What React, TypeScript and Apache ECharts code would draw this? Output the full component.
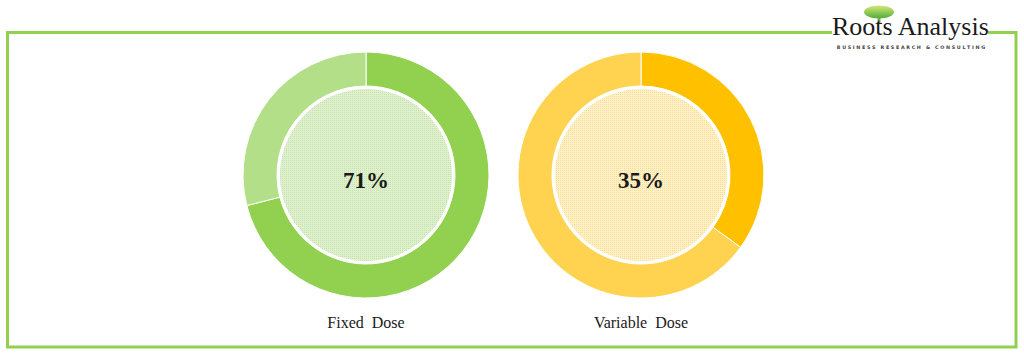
import React, { useEffect, useRef } from "react";
import * as echarts from "echarts";

const categories = ["Fixed Dose", "Variable Dose"];
const shareValues = [71, 35];
const restValues = [29, 65];
const darkColors = ["#92D050", "#FFC000"];
const lightColors = ["#B3DF88", "#FFD34F"];
const innerColors = ["#DFF0CF", "#FFF0C6"];
const innerDots = ["#C5E3A8", "#F8DC98"];
const centersX = [366, 641];
const centerY = 175;

export default function App() {
  const ref = useRef<HTMLDivElement>(null);
  useEffect(() => {
    document.body.style.margin = "0";
    const chart = echarts.init(ref.current!, null, { renderer: "svg" });
    const series: any[] = [];
    categories.forEach((name, i) => {
      series.push({
        type: "pie",
        name: name + " ring",
        center: [centersX[i], centerY],
        radius: [89, 123],
        startAngle: 90,
        clockwise: true,
        silent: true,
        label: { show: false },
        labelLine: { show: false },
        itemStyle: { borderColor: "#ffffff", borderWidth: 1 },
        data: [
          { name: name, value: shareValues[i], itemStyle: { color: darkColors[i] } },
          { name: "Other", value: restValues[i], itemStyle: { color: lightColors[i] } },
        ],
      });
      series.push({
        type: "pie",
        name: name + " inner",
        center: [centersX[i], centerY],
        radius: [0, 86],
        silent: true,
        label: { show: false },
        labelLine: { show: false },
        itemStyle: {
          color: innerColors[i],
          decal: {
            symbol: "rect",
            symbolSize: 1,
            color: innerDots[i],
            dashArrayX: [1, 1],
            dashArrayY: [1, 1],
          },
        },
        data: [{ name: name, value: 1 }],
      });
    });
    const graphic: any[] = [
      {
        type: "polyline",
        shape: {
          points: [
            [832, 32.5],
            [7.5, 32.5],
            [7.5, 347],
            [1016, 347],
            [1016, 32.5],
            [988, 32.5],
          ],
        },
        style: { stroke: "#92D050", lineWidth: 3, fill: null },
      },
      {
        type: "rect",
        shape: { x: 877.5, y: 14, width: 3, height: 9 },
        style: { fill: "#8aa860" },
      },
      {
        type: "ellipse",
        shape: { cx: 879, cy: 12, rx: 15, ry: 6.5 },
        style: {
          fill: new echarts.graphic.LinearGradient(0, 0, 0, 1, [
            { offset: 0, color: "#D6E87A" },
            { offset: 1, color: "#4FAE3A" },
          ]),
        },
      },
      {
        type: "text",
        style: {
          x: 832,
          y: 39,
          text: "Roots Analysis",
          font: "26px 'Liberation Serif'",
          fill: "#1a1a1a",
          textVerticalAlign: "bottom",
        },
      },
      {
        type: "text",
        style: {
          x: 911,
          y: 47,
          text: "B U S I N E S S   R E S E A R C H   &   C O N S U L T I N G",
          font: "bold 4.8px 'DejaVu Sans'",
          fill: "#444444",
          textAlign: "center",
          textVerticalAlign: "middle",
        },
      },
    ];
    categories.forEach((name, i) => {
      graphic.push({
        type: "text",
        style: {
          x: centersX[i],
          y: 180,
          text: shareValues[i] + "%",
          font: "bold 23px 'Liberation Serif'",
          fill: "#1a1a1a",
          textAlign: "center",
          textVerticalAlign: "middle",
        },
        z: 100,
      });
      graphic.push({
        type: "text",
        style: {
          x: centersX[i],
          y: 322,
          text: name.replace(" ", "  "),
          font: "16px 'Liberation Serif'",
          fill: "#1a1a1a",
          textAlign: "center",
          textVerticalAlign: "middle",
        },
      });
    });
    chart.setOption({
      animation: false,
      backgroundColor: "#ffffff",
      series,
      graphic,
    });
    return () => chart.dispose();
  }, []);
  return <div ref={ref} style={{ width: 1024, height: 356 }} />;
}
